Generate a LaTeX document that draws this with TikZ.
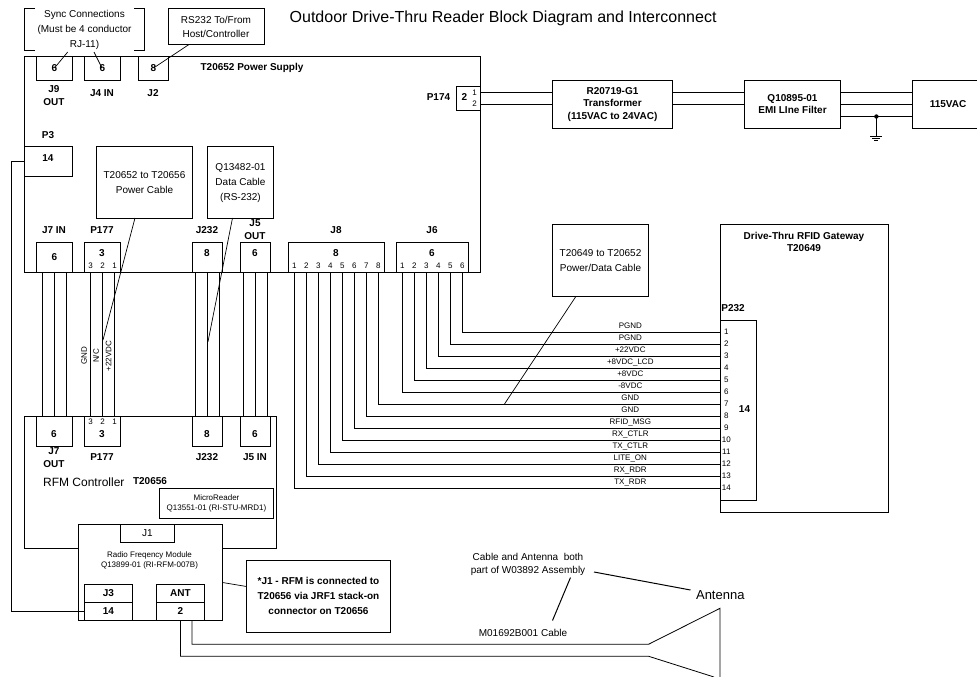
\documentclass[tikz,border=0pt]{standalone}
\usepackage{fontspec}
\setmainfont{Liberation Sans}
\usetikzlibrary{calc}

\begin{document}
\begin{tikzpicture}[x=1pt,y=-1pt,line width=0.8pt,
    box/.style={draw=black,fill=white,rectangle,inner sep=0pt,outer sep=0pt,align=center},
    txt/.style={inner sep=0pt,outer sep=0pt,align=center,font=\fontsize{10}{15}\selectfont},
    bld/.style={inner sep=0pt,outer sep=0pt,align=center,font=\fontsize{10}{13}\bfseries\selectfont},
    sml/.style={inner sep=0pt,outer sep=0pt,align=center,font=\fontsize{8}{9.5}\selectfont},
    pinlbl/.style={sml,minimum size=12pt},
    lead/.style={line width=0.7pt}]

\useasboundingbox (0,0) rectangle (977,677);

% title
\node[anchor=west,inner sep=0pt,font=\fontsize{16}{18}\selectfont] (title) at (289.3,18) {Outdoor Drive-Thru Reader Block Diagram and Interconnect};

% power supply
\node[box,minimum width=456,minimum height=216] (supply) at (252.5,164) {};
\node[bld] (supplyname) at (252,68) {T20652 Power Supply};

\node[box,bld,minimum width=36,minimum height=24] (j9) at (54.5,68) {6};
\node[box,bld,minimum width=36,minimum height=24] (j4) at (102.5,68) {6};
\node[box,bld,minimum width=30,minimum height=24] (j2) at (153.5,68) {8};
\node[bld] (j9name) at (54,95.5) {J9\\OUT};
\node[bld] (j4name) at (102,93) {J4 IN};
\node[bld] (j2name) at (153,93) {J2};

\node[txt,minimum width=120,minimum height=42] (sync) at (84.5,29) {};
\node[txt] (synctxt) at (84.5,30) {Sync Connections\\(Must be 4 conductor\\RJ-11)};
\draw ($(sync.north west)+(10.5,0)$) -- (sync.north west) -- (sync.south west) -- ($(sync.south west)+(10.5,0)$);
\draw ($(sync.north east)+(-10.5,0)$) -- (sync.north east) -- (sync.south east) -- ($(sync.south east)+(-10.5,0)$);
\node[box,txt,minimum width=96,minimum height=36,draw=black,font=\fontsize{10}{14}\selectfont] (host) at (216,26.5) {RS232 To/From\\Host/Controller};

\coordinate (syncout) at (67.7,52);
\coordinate (syncin) at (94,52);
\draw[lead] (syncout) -- (j9.center);
\draw[lead] (syncin) -- ($(j4.center)+(-0.5,0)$);
\draw[lead] (189,44.5) -- (j2.center);

\node[bld] (p3name) at (48,135) {P3};
\node[box,minimum width=48,minimum height=30] (p3) at (48.5,161) {};
\node[bld] (p3num) at (48,158) {14};

\node[box,minimum width=96,minimum height=72] (pwrcable) at (144.5,182) {};
\node[txt] (pwrcabletxt) at (144.5,183) {T20652 to T20656\\Power Cable};
\node[box,minimum width=66,minimum height=72] (datacable) at (240.5,182) {};
\node[txt] (datacabletxt) at (240.5,183) {Q13482-01\\Data Cable\\(RS-232)};

% connectors along the bottom of the supply
\node[box,bld,minimum width=36,minimum height=30] (j7top) at (54.5,257) {6};
\node[box,minimum width=36,minimum height=30] (p177top) at (102.5,257) {};
\node[box,minimum width=30,minimum height=30] (j232top) at (207.5,257) {};
\node[box,minimum width=30,minimum height=30] (j5top) at (255.5,257) {};
\node[box,minimum width=96,minimum height=30] (j8) at (336.3,257) {};
\node[box,minimum width=72,minimum height=30] (j6) at (432.3,257) {};
\node[bld] (p177topnum) at (102,253) {3};
\node[bld] (j232topnum) at (207,253) {8};
\node[bld] (j5topnum) at (255,253) {6};
\node[bld] (j8num) at (336,253) {8};
\node[bld] (j6num) at (432,253) {6};
\node[bld] (j7topname) at (54,230) {J7 IN};
\node[bld] (p177topname) at (102,230) {P177};
\node[bld] (j232topname) at (207,230) {J232};
\node[bld] (j5topname) at (255,230) {J5\\OUT};
\node[bld] (j8name) at (336,230) {J8};
\node[bld] (j6name) at (432,230) {J6};

% P174 and the mains side
\node[bld] (p174name) at (438.5,97) {P174};
\node[box,minimum width=24,minimum height=24.5] (p174) at (468.7,98.2) {};
\node[bld] (p174num) at (464.4,97) {2};
\node[pinlbl] (p174p1) at (474.7,92.3) {1};
\node[pinlbl] (p174p2) at (474.7,104) {2};
\node[box,bld,minimum width=120,minimum height=48,font=\fontsize{10}{12.4}\bfseries\selectfont] (xfmr) at (612.5,104.3) {R20719-G1\\Transformer\\(115VAC to 24VAC)};
\node[box,bld,minimum width=96,minimum height=48,font=\fontsize{10}{12.4}\bfseries\selectfont] (emi) at (792.5,104.3) {Q10895-01\\EMI LIne Filter};
\node[bld] (ac) at (948,104.3) {115VAC};
\draw (977,80.3) -- (912.3,80.3) coordinate (acedge) -- (912.3,128.3) -- (977,128.3);

\foreach \p in {p174p1,p174p2} {
    \draw (\p.east) -- (xfmr.west |- \p);
    \draw (xfmr.east |- \p) -- (emi.west |- \p);
    \draw (emi.east |- \p) -- (acedge |- \p);
}
\coordinate (gnd) at (876.4,116.5);
\draw (emi.east |- gnd) -- (acedge |- gnd);
\fill (gnd) circle (2.2);
\draw (gnd) -- ++(0,19.5);
\foreach \y/\w in {19.5/6,21.8/4,23.8/2}
    \draw ($(gnd)+(-\w,\y)$) -- ($(gnd)+(\w,\y)$);

% RFM controller
\node[box,minimum width=252,minimum height=132.3] (ctrl) at (150.5,482.2) {};
\node[bld] (ctrlj7name) at (54,457.5) {J7\\OUT};
\node[bld] (ctrlp177name) at (102,457) {P177};
\node[bld] (ctrlj232name) at (207,457) {J232};
\node[bld] (ctrlj5name) at (255,457) {J5 IN};
\node[anchor=west,inner sep=0pt,font=\fontsize{12}{14}\selectfont] (ctrlname) at (42.7,482) {RFM Controller};
\node[bld] (ctrlpart) at (150,481) {T20656};

\node[box,minimum width=36,minimum height=30] (j7bot) at (54.5,431) {};
\node[box,minimum width=36,minimum height=30] (p177bot) at (102.5,431) {};
\node[box,minimum width=30,minimum height=30] (j232bot) at (207.5,431) {};
\node[box,minimum width=30,minimum height=30] (j5bot) at (255.5,431) {};
\node[bld] (j7botnum) at (54,434) {6};
\node[bld] (p177botnum) at (102,434) {3};
\node[bld] (j232botnum) at (207,434) {8};
\node[bld] (j5botnum) at (255,434) {6};

\foreach \a/\b in {j7top/j7bot,p177top/p177bot,j232top/j232bot,j5top/j5bot}
    \foreach \dx in {-12,0,12}
        \draw ($(\a.south)+(\dx,0)$) -- ($(\b.north)+(\dx,0)$);

\foreach \n/\dx in {3/-12,2/0,1/12} {
    \node[pinlbl] (p177topp\n) at ($(p177top.center)+(\dx,9)$) {\n};
    \node[pinlbl] (p177botp\n) at ($(p177bot.center)+(\dx,-9)$) {\n};
}

% signal names of the P177 cable
\node[sml,rotate=90] (gndlbl) at (84,356) {GND};
\node[sml,rotate=90] (nclbl) at (96,356) {N/C};
\node[sml,rotate=90] (vdclbl) at (108.5,356) {+22VDC};

% cable call-outs
\draw[lead] (135,218) -- (103,340);
\draw[lead] (232.5,218) -- (208,341.7);

\node[box,sml,minimum width=114,minimum height=30] (micro) at (216.5,503.2) {MicroReader\\Q13551-01 (RI-STU-MRD1)};

% radio module
\node[box,minimum width=144,minimum height=95.3] (rfm) at (150.5,572.3) {};
\node[sml] (rfmname) at (149.5,560.5) {Radio Freqency Module\\Q13899-01 (RI-RFM-007B)};
\node[box,txt,minimum width=54,minimum height=17.6] (j1) at (147.5,533.5) {J1};
\node[box,bld,minimum width=48,minimum height=17.8] (j3name) at (108.5,593.2) {J3};
\node[box,bld,minimum width=48,minimum height=18] (j3num) at (108.5,611) {14};
\node[box,bld,minimum width=48,minimum height=17.8] (antname) at (180.5,593.2) {ANT};
\node[box,bld,minimum width=48,minimum height=18] (antnum) at (180.5,611) {2};
\draw (p3.west) -- ++(-13,0) |- (j3num.west);

\node[box,bld,minimum width=144,minimum height=72,font=\fontsize{10}{15}\bfseries\selectfont] (note) at (318.5,596.3) {*J1 - RFM is connected to\\T20656 via JRF1 stack-on\\connector on T20656};
\draw[lead] (rfm.east |- 0,582.5) -- (note.west |- 0,586.5);

% antenna and its cable
\coordinate (hornup) at (648.7,644.2);
\coordinate (horndn) at (648.7,656.3);
\coordinate (horntop) at (720,608.3);
\coordinate (hornend) at (720,677);
\coordinate (hornlow) at (714,677);
\draw ($(antnum.south)+(11.5,0)$) |- (hornup) -- (horntop) -- (hornend);
\draw (antnum.south) |- (horndn) -- (hornlow);

\node[txt,font=\fontsize{10}{13}\selectfont] (assy) at (528,564.5) {Cable and Antenna\ \ both\\part of W03892 Assembly};
\node[txt] (cablename) at (523,632.5) {M01692B001 Cable};
\node[inner sep=0pt,font=\fontsize{13}{15}\selectfont] (antenna) at (720.3,595) {Antenna};
\draw[line width=1pt] (594,572) -- (690.5,590);
\draw[line width=1pt] (570.5,577.5) -- (552.5,620.5);

% gateway
\node[box,minimum width=168,minimum height=288.3] (gateway) at (804.3,368.2) {};
\node[bld,font=\fontsize{10}{12.6}\bfseries\selectfont] (gatewayname) at (804,242) {Drive-Thru RFID Gateway\\T20649};
\node[bld] (p232name) at (733,308) {P232};
\node[box,minimum width=36.4,minimum height=180.3] (p232) at (738.5,410.2) {};
\node[bld] (p232num) at (744.5,409) {14};

% pins and wires to the gateway
\foreach \n in {1,...,14}
    \node[pinlbl] (p232p\n) at ($(p232.north west)+(6,12*\n)$) {\n};
\foreach \n in {1,...,6}
    \node[pinlbl] (j6p\n) at ($(j6.south west)+(-6+12*\n,-6)$) {\n};
\foreach \n in {1,...,8}
    \node[pinlbl] (j8p\n) at ($(j8.south west)+(-6+12*\n,-6)$) {\n};

\foreach \from/\sig [count=\i from 1] in {j6p6/PGND,j6p5/PGND,j6p4/+22VDC,j6p3/+8VDC\_LCD,j6p2/+8VDC,j6p1/-8VDC,j8p8/GND,j8p7/GND,j8p6/RFID\_MSG,j8p5/RX\_CTLR,j8p4/TX\_CTLR,j8p3/LITE\_ON,j8p2/RX\_RDR,j8p1/TX\_RDR} {
    \draw (\from.south) |- (p232p\i.west);
    \node[sml] (sig\i) at ($(p232p\i.west)+(-90,-6)$) {\sig};
}

\node[box,txt,minimum width=96,minimum height=72] (gwcable) at (600.5,260.2) {T20649 to T20652\\Power/Data Cable};
\draw[lead] (576,296.3) -- (504.3,404.3);

\end{tikzpicture}
\end{document}
